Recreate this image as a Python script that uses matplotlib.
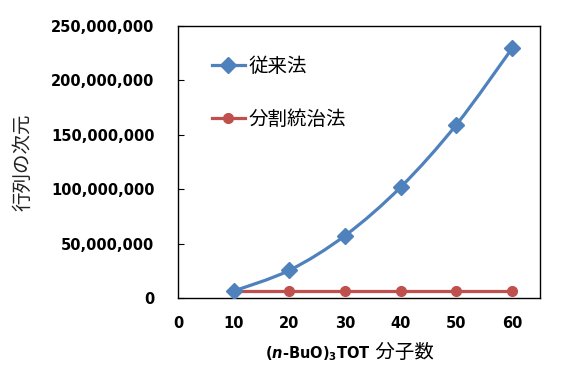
import matplotlib
matplotlib.use('Agg')
import matplotlib.pyplot as plt
from matplotlib.path import Path
from matplotlib.patches import PathPatch
from matplotlib.lines import Line2D
from matplotlib.ticker import FuncFormatter

# data
molecules = [10, 20, 30, 40, 50, 60]
conventional = [6400000, 25500000, 57400000, 102000000, 159400000, 229500000]
divide_conquer = [6400000, 6400000, 6400000, 6400000, 6400000, 6400000]
series_names = ['従来法', '分割統治法']
y_label = '行列の次元'

blue = '#4F81BD'
red = '#C0504D'
cjk = ['Noto Sans CJK JP', 'DejaVu Sans']

plt.rcParams['mathtext.fontset'] = 'dejavusans'

fig = plt.figure(figsize=(5.68, 3.79), dpi=100)
ax = fig.add_axes([0.3134, 0.2137, 0.6373, 0.7177])


def smooth_path(xs, ys):
    # Excel style smoothed line: cubic bezier through the points
    pts = list(zip(xs, ys))
    verts = [pts[0]]
    codes = [Path.MOVETO]
    n = len(pts)
    for i in range(n - 1):
        p0 = pts[i - 1] if i > 0 else pts[i]
        p1 = pts[i]
        p2 = pts[i + 1]
        p3 = pts[i + 2] if i + 2 < n else pts[i + 1]
        c1 = (p1[0] + (p2[0] - p0[0]) / 6, p1[1] + (p2[1] - p0[1]) / 6)
        c2 = (p2[0] - (p3[0] - p1[0]) / 6, p2[1] - (p3[1] - p1[1]) / 6)
        verts += [c1, c2, p2]
        codes += [Path.CURVE4] * 3
    return Path(verts, codes)


ax.add_patch(PathPatch(smooth_path(molecules, conventional), facecolor='none',
                       edgecolor=blue, lw=2.3, capstyle='round', zorder=3))
ax.plot(molecules, conventional, linestyle='none', marker='D', ms=8,
        color=blue, zorder=4)
ax.plot(molecules, divide_conquer, color=red, lw=2.3, marker='o', ms=7,
        zorder=3)

ax.set_xlim(0, 65)
ax.set_ylim(0, 250000000)
ax.set_xticks(range(0, 61, 10))
ax.set_yticks(range(0, 250000001, 50000000))
ax.yaxis.set_major_formatter(FuncFormatter(lambda v, p: f'{v:,.0f}'))

for lab in ax.get_xticklabels() + ax.get_yticklabels():
    lab.set_fontfamily('DejaVu Sans')
    lab.set_fontweight('bold')
    lab.set_fontsize(10.5)
ax.tick_params(axis='x', length=0, pad=13)
ax.tick_params(axis='y', direction='in', length=4, pad=17)
for s in ax.spines.values():
    s.set_linewidth(1.0)
    s.set_color('black')

ax.set_ylabel(y_label, family=cjk, fontsize=14, color='#222222')
ax.yaxis.set_label_coords(-0.40, 0.5)

# x label: bold latin part then plain CJK part
xl = ax.annotate(r'$\mathbf{(}\mathbfit{n}\mathbf{‐BuO)}_{\mathbf{3}}\mathbf{TOT}$',
                 xy=(0.533, -0.22), xycoords='axes fraction',
                 ha='right', va='baseline', fontsize=10.5)
ax.annotate(' 分子数', xy=(1, -0.22), xycoords=(xl, 'axes fraction'),
            ha='left', va='baseline', fontsize=14, family=cjk)

handles = [Line2D([], [], color=blue, lw=2.3, marker='D', ms=8),
           Line2D([], [], color=red, lw=2.3, marker='o', ms=7)]
leg = ax.legend(handles, series_names, loc='upper left',
                bbox_to_anchor=(0.093, 0.89), frameon=False, borderpad=0,
                borderaxespad=0, handlelength=1.7, handletextpad=0.2,
                labelspacing=1.65, prop={'family': cjk, 'size': 14})

fig.savefig('out.png', dpi=100)
